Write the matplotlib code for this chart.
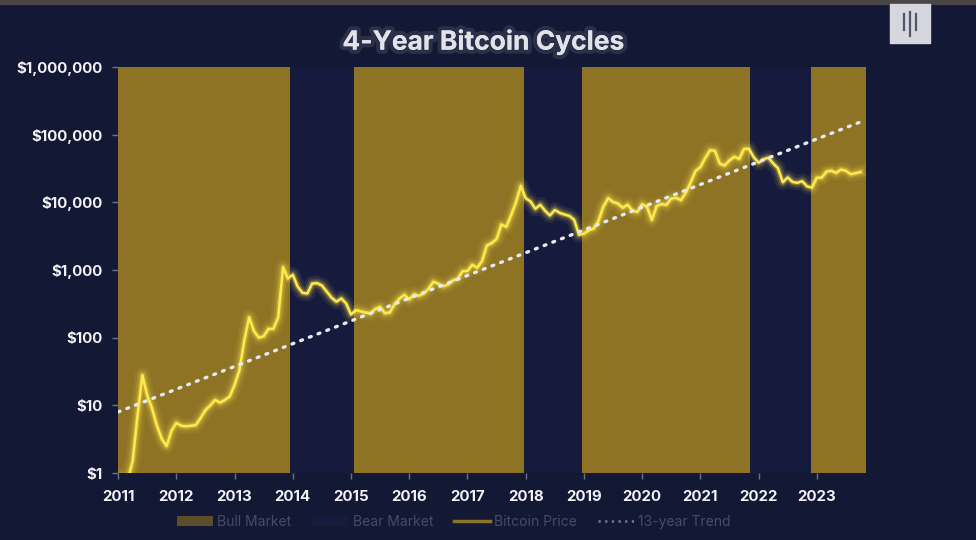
import numpy as np
import matplotlib.pyplot as plt
import matplotlib.patheffects as pe
from matplotlib.patches import Rectangle, Patch
from matplotlib.lines import Line2D
from matplotlib.ticker import FixedLocator, FixedFormatter

# monthly BTC price (USD), Jan 2011 .. Oct 2023
price_2011 = [0.4, 0.9, 0.8, 1.5, 7, 28, 14, 9, 5, 3.2, 2.5, 4.2]
price_2012 = [5.5, 5, 4.9, 5, 5.1, 6.5, 8.5, 10, 12, 11, 12, 13.5]
price_2013 = [20, 33, 90, 200, 125, 100, 105, 135, 135, 200, 1100, 750]
price_2014 = [850, 570, 460, 450, 630, 640, 590, 480, 390, 340, 380, 320]
price_2015 = [220, 255, 245, 235, 230, 265, 285, 230, 236, 315, 378, 430]
price_2016 = [370, 437, 416, 450, 530, 670, 625, 575, 610, 700, 745, 960]
price_2017 = [970, 1190, 1080, 1350, 2300, 2500, 2870, 4700, 4340, 6450, 10000, 17500]
price_2018 = [11500, 10300, 8000, 9200, 7500, 6400, 7700, 7000, 6600, 6300, 5500, 3300]
price_2019 = [3450, 3850, 4100, 5300, 8600, 11500, 10100, 9600, 8300, 9200, 7550, 7200]
price_2020 = [9350, 8600, 5500, 8800, 9450, 9150, 11350, 11650, 10780, 13800, 19700, 29000]
price_2021 = [33100, 45100, 58800, 57700, 37300, 35000, 41500, 47100, 43800, 61300, 62000, 46300]
price_2022 = [38500, 43200, 45500, 37700, 31800, 19800, 23300, 20000, 19400, 20500, 17200, 16500]
price_2023 = [23100, 23150, 28500, 29300, 27200, 30500, 29200, 26000, 27000, 28000]

bear_starts = [2013.95, 2017.97, 2021.86]
bear_ends = [2015.05, 2018.97, 2022.90]
x_start, x_end = 2011.0, 2023.84

trend_years = [2011.0, 2023.8]
trend_values = [8, 160000]

year_ticks = list(range(2011, 2024))
price_ticks = [1, 10, 100, 1000, 10000, 100000, 1000000]
price_labels = ['$1', '$10', '$100', '$1,000', '$10,000', '$100,000', '$1,000,000']

prices = np.array(price_2011 + price_2012 + price_2013 + price_2014 + price_2015 + price_2016
                  + price_2017 + price_2018 + price_2019 + price_2020 + price_2021 + price_2022
                  + price_2023)
dates = 2011 + np.arange(len(prices)) / 12.0

bg = '#131834'
gold = '#8e7324'
bear_col = '#161b3d'
line_col = '#ffe94d'
txt = '#f2f2f8'

plt.rcParams['font.family'] = ['Inter', 'DejaVu Sans']
fig = plt.figure(figsize=(9.76, 5.4), dpi=100, facecolor=bg)
ax = fig.add_axes([0.121, 0.124, 0.766, 0.752])
ax.set_facecolor(bg)

# bull / bear bands
ax.axvspan(x_start, x_end, color=gold, zorder=0, lw=0)
for s, e in zip(bear_starts, bear_ends):
    ax.axvspan(s, e, color=bear_col, zorder=1, lw=0)

# price line with glow
for lw, a in [(11, 0.08), (7, 0.14), (4, 0.3)]:
    ax.plot(dates, prices, color=line_col, lw=lw, alpha=a, zorder=3, solid_joinstyle='round')
ax.plot(dates, prices, color=line_col, lw=1.8, zorder=4)

# trend
ax.plot(trend_years, trend_values, color='#e6e8f2', lw=2.4, linestyle=(0, (0.6, 2.2)),
        dash_capstyle='round', zorder=5)

ax.set_yscale('log')
ax.set_ylim(1, 1000000)
ax.set_xlim(x_start, x_end)
ax.yaxis.set_major_locator(FixedLocator(price_ticks))
ax.yaxis.set_major_formatter(FixedFormatter(price_labels))
ax.yaxis.set_minor_locator(FixedLocator([]))
ax.set_xticks(year_ticks)
ax.set_xticklabels([str(y) for y in year_ticks])

for lab in ax.get_xticklabels() + ax.get_yticklabels():
    lab.set_color(txt)
    lab.set_fontsize(10.8)
    lab.set_fontweight('bold')
ax.tick_params(colors='#6b6f8a', length=4, width=1, labelcolor=txt)
ax.tick_params(axis='x', pad=8)
ax.tick_params(axis='y', pad=7)
for sp in ax.spines.values():
    sp.set_visible(False)

fig.text(0.495, 0.922, '4-Year Bitcoin Cycles', color='#e2e2ea', fontsize=19, fontweight='bold',
         ha='center', va='center',
         path_effects=[pe.withStroke(linewidth=6, foreground=(1, 1, 1, 0.1))])

handles = [Patch(facecolor=gold, edgecolor='none', alpha=0.6),
           Patch(facecolor=bear_col, edgecolor='none'),
           Line2D([0], [0], color=gold, lw=2.5),
           Line2D([0], [0], color='#6e718c', lw=2, linestyle=(0, (0.8, 1.6)))]
leg = fig.legend(handles, ['Bull Market', 'Bear Market', 'Bitcoin Price', '13-year Trend'],
                 loc='center', bbox_to_anchor=(0.465, 0.033), ncol=4, frameon=False,
                 fontsize=10, handlelength=2.6, columnspacing=1.5, handletextpad=0.3)
for t in leg.get_texts():
    t.set_color('#474b68')

# top photo edge and logo
fig.patches.append(Rectangle((0, 0.993), 1, 0.007, transform=fig.transFigure,
                             color='#4a4648', zorder=10))
fig.patches.append(Rectangle((0.912, 0.92), 0.041, 0.072, transform=fig.transFigure,
                             color='#d6d6de', zorder=10))
for xl, y0, y1 in [(0.926, 0.945, 0.975), (0.9325, 0.933, 0.978), (0.939, 0.945, 0.975)]:
    fig.add_artist(Line2D([xl, xl], [y0, y1], transform=fig.transFigure, color='#55556a',
                          lw=1.6, zorder=11))

fig.savefig('out.png', dpi=100, facecolor=bg)
